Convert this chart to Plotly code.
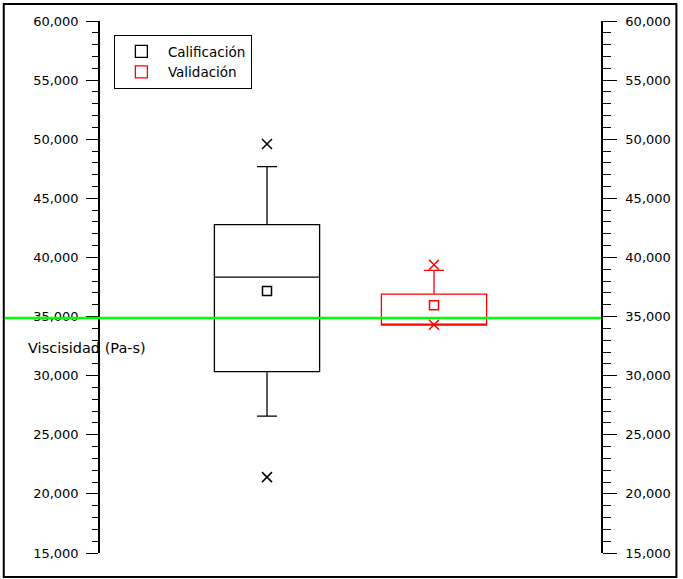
import plotly.graph_objects as go

# ---- data ----
groups = ["Calificación", "Validación"]
colors = ["black", "red"]
positions = [1, 2]
q1 = [30340, 34280]
median = [38340, 34280]
q3 = [42780, 36900]
lower_whisker = [26580, 34280]
upper_whisker = [47680, 38910]
means = [37160, 35950]
outliers_low = [21420, 34300]
outliers_high = [49600, 39390]
reference_value = 34880
y_ticks = [15000, 20000, 25000, 30000, 35000, 40000, 45000, 50000, 55000, 60000]

W, H = 683, 579
ML, MR, MT, MB = 100, 78, 21, 26
PW, PH = W - ML - MR, H - MT - MB


def px_x(p):
    return (p - ML) / PW


def px_y(p):
    return (H - MB - p) / PH


FONT = "DejaVu Sans"
fig = go.Figure()

for i, g in enumerate(groups):
    fig.add_trace(go.Box(
        x=[positions[i]], q1=[q1[i]], median=[median[i]], q3=[q3[i]],
        lowerfence=[lower_whisker[i]], upperfence=[upper_whisker[i]],
        name=g, boxpoints=False, width=0.63, whiskerwidth=0.19,
        line=dict(color=colors[i], width=1.3),
        fillcolor="rgba(0,0,0,0)", showlegend=True,
        yaxis="y" if i == 0 else "y2", hoverinfo="skip",
    ))
    fig.add_trace(go.Scatter(
        x=[positions[i]], y=[means[i]], mode="markers", showlegend=False,
        marker=dict(symbol="square-open", size=9, color=colors[i], line=dict(width=1.5, color=colors[i])),
        yaxis="y" if i == 0 else "y2", hoverinfo="skip",
    ))
    fig.add_trace(go.Scatter(
        x=[positions[i], positions[i]], y=[outliers_low[i], outliers_high[i]], mode="markers",
        showlegend=False,
        marker=dict(symbol="x-thin", size=10, color=colors[i], line=dict(width=1.5, color=colors[i])),
        yaxis="y" if i == 0 else "y2", hoverinfo="skip",
    ))


def yax(ticklen, minorlen, standoff):
    return dict(
        range=[15000, 60000], tickvals=y_ticks, tickformat=",d",
        ticks="outside", ticklen=ticklen, tickwidth=1.3, tickcolor="black",
        showline=True, linecolor="black", linewidth=1.5,
        showgrid=False, zeroline=False, ticklabelstandoff=standoff,
        minor=dict(dtick=1000, ticks="outside", ticklen=minorlen, tickwidth=1.3,
                   tickcolor="black", showgrid=False),
        tickfont=dict(family=FONT, size=13, color="black"),
    )


fig.update_layout(
    width=W, height=H,
    margin=dict(l=ML, r=MR, t=MT, b=MB),
    paper_bgcolor="white", plot_bgcolor="white",
    xaxis=dict(range=[0, 3], visible=False, showgrid=False, zeroline=False),
    yaxis=yax(12, 6, 5),
    yaxis2=dict(**yax(14, 8, 6), overlaying="y", side="right", anchor="x"),
    legend=dict(
        x=px_x(114), y=px_y(35), xanchor="left", yanchor="top",
        bordercolor="black", borderwidth=1, bgcolor="white",
        font=dict(family=FONT, size=13.5, color="black"),
        tracegroupgap=0, itemwidth=43,
    ),
    font=dict(family=FONT, size=13, color="black"),
)

# reference line
fig.add_shape(type="line", xref="paper", yref="y", x0=px_x(4), x1=1,
              y0=reference_value, y1=reference_value,
              line=dict(color="#00ff00", width=2.5), layer="above")

# outer frame
fig.add_shape(type="rect", xref="paper", yref="paper",
              x0=px_x(3), x1=px_x(681), y0=px_y(577), y1=px_y(4),
              line=dict(color="black", width=2), layer="below")

# axis title
fig.add_annotation(text="Viscisidad (Pa-s)", xref="paper", yref="paper",
                   x=px_x(25), y=px_y(348), xanchor="left", yanchor="middle",
                   showarrow=False, font=dict(family=FONT, size=14.5, color="black"))

fig.write_html("out.html", config={"displayModeBar": False},
               post_script="document.body.style.margin='0';")
